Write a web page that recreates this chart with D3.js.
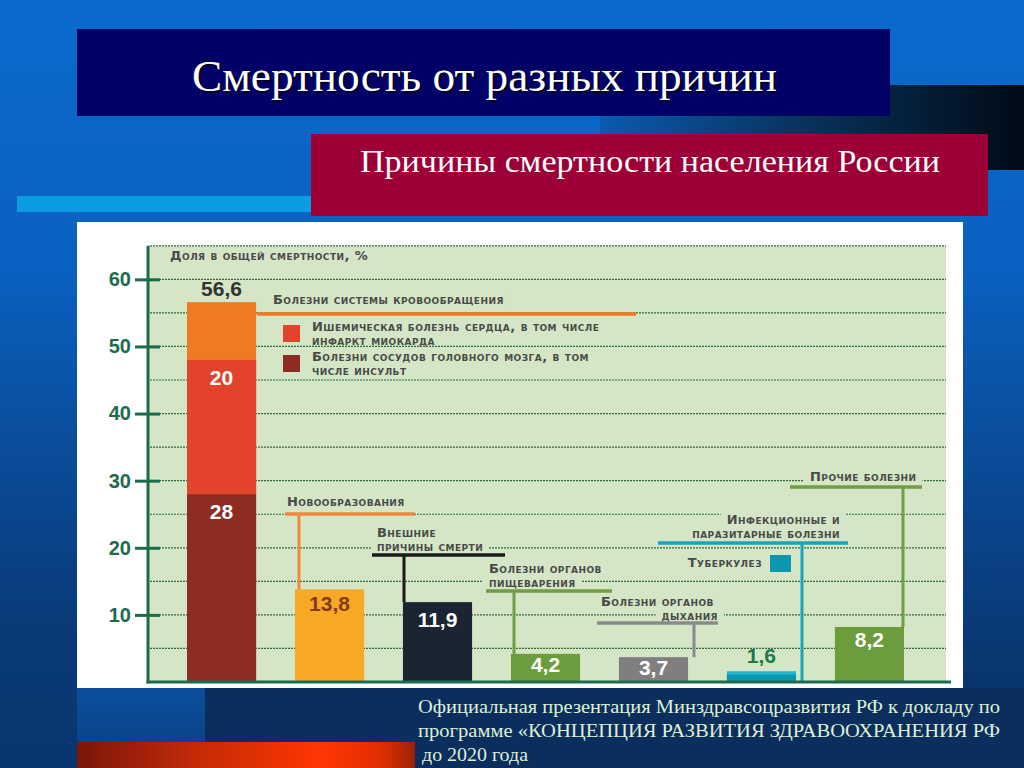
<!DOCTYPE html>
<html>
<head>
<meta charset="utf-8">
<script src="https://d3js.org/d3.v7.min.js"></script>
<style>
  body { margin: 0; background: #0a5fbf; overflow: hidden; }
  svg { display: block; }
  .cap {
    font-family: "DejaVu Sans", sans-serif;
    font-weight: bold;
    font-variant: small-caps;
    font-size: 13px;
    letter-spacing: 0.45px;
    fill: #4a4a4a;
  }
  .num { font-family: "Liberation Sans", Arial, sans-serif; font-weight: bold; font-size: 21px; }
  .serif { font-family: "Liberation Serif", "Times New Roman", serif; }
</style>
</head>
<body>
<script>
"use strict";

// data
var categories = [
  "Болезни системы кровообращения",
  "Новообразования",
  "Внешние причины смерти",
  "Болезни органов пищеварения",
  "Болезни органов дыхания",
  "Инфекционные и паразитарные болезни",
  "Прочие болезни"
];
var values = [56.6, 13.8, 11.9, 4.2, 3.7, 1.6, 8.2];
var valueLabels = ["56,6", "13,8", "11,9", "4,2", "3,7", "1,6", "8,2"];

// parts of the circulatory bar, from the bottom up
var circParts = [
  ["Болезни сосудов головного мозга, в том", "числе инсульт"],
  ["Ишемическая болезнь сердца, в том числе", "инфаркт миокарда"]
];
var circValues = [28, 20];
var circLabels = ["28", "20"];

// tuberculosis part of the infectious bar (estimated)
var tbName = "Туберкулез";
var tbValue = 1.1;

var yTicks = [10, 20, 30, 40, 50, 60];
var axisTitle = "Доля в общей смертности, %";

var title = "Смертность от разных причин";
var subtitle = "Причины смертности населения России";
var sourceLines = [
  "Официальная презентация Минздравсоцразвития РФ к докладу по",
  "программе «КОНЦЕПЦИЯ РАЗВИТИЯ ЗДРАВООХРАНЕНИЯ РФ",
  "до 2020 года"
];

// colours
var barColors = ["#f07a22", "#f7a824", "#1b2433", "#6c9d3d", "#7f7f7f", "#21b6cd", "#6c9d3d"];
var circColors = ["#8c2c22", "#e3432a"];
var tbColor = "#0b97b1";
var axisColor = "#1d6b4d";
var plotBg = "#d4e6c5";

var W = 1024, H = 768;

var svg = d3.select("body").append("svg")
    .attr("width", W)
    .attr("height", H);

var defs = svg.append("defs");

function gradient(id, x2, y2, stops) {
  var g = defs.append("linearGradient").attr("id", id)
      .attr("x1", 0).attr("y1", 0).attr("x2", x2).attr("y2", y2);
  stops.forEach(function (s) {
    g.append("stop").attr("offset", s[0]).attr("stop-color", s[1]);
  });
}

gradient("bg", 0, 1, [[0, "#0a6bcd"], [0.35, "#0a60c0"], [0.65, "#0a478f"], [1, "#082c5d"]]);
gradient("band", 1, 0, [[0, "#0a5ab0"], [0.45, "#083560"], [1, "#010a16"]]);
gradient("redbar", 1, 0, [[0, "#7a160a"], [0.35, "#c42a08"], [0.72, "#ff3600"], [0.9, "#e22e02"], [1, "#9a2208"]]);
gradient("lowleft", 0, 1, [[0, "#0a4f9c"], [1, "#0a3f80"]]);

/*
  slide background
*/
svg.append("rect").attr("width", W).attr("height", H).attr("fill", "url(#bg)");
svg.append("rect").attr("x", 77).attr("y", 688).attr("width", 128).attr("height", 80).attr("fill", "url(#lowleft)");
svg.append("rect").attr("x", 205).attr("y", 688).attr("width", W - 205).attr("height", 80).attr("fill", "#0b2e5f");
svg.append("rect").attr("x", 0).attr("y", 600).attr("width", 77).attr("height", 168).attr("fill", "#0a3c7a").attr("opacity", 0.6);

// dark band behind the headings
svg.append("rect").attr("x", 600).attr("y", 85).attr("width", W - 600).attr("height", 85).attr("fill", "url(#band)");

// title box
svg.append("rect").attr("x", 77).attr("y", 29).attr("width", 813).attr("height", 87).attr("fill", "#000066");
[["#000", 0.6, 2], ["#fff", 1, 0]].forEach(function (s) {
  svg.append("text").attr("class", "serif")
      .attr("x", 192 + s[2]).attr("y", 91 + s[2])
      .attr("font-size", 44)
      .attr("fill", s[0])
      .attr("opacity", s[1])
      .attr("textLength", 585)
      .attr("lengthAdjust", "spacingAndGlyphs")
      .text(title);
});

// light blue strip
svg.append("rect").attr("x", 17).attr("y", 196).attr("width", 294).attr("height", 16).attr("fill", "#0a9be0");

// subtitle box
svg.append("rect").attr("x", 311).attr("y", 134).attr("width", 677).attr("height", 82).attr("fill", "#9c0036");
svg.append("text").attr("class", "serif")
    .attr("x", 360).attr("y", 172)
    .attr("font-size", 32)
    .attr("fill", "#fff")
    .attr("textLength", 580)
    .attr("lengthAdjust", "spacingAndGlyphs")
    .text(subtitle);

// white chart panel
svg.append("rect").attr("x", 77).attr("y", 222).attr("width", 886).attr("height", 466).attr("fill", "#fff");

// red bar bottom left
svg.append("rect").attr("x", 77).attr("y", 742).attr("width", 338).attr("height", 26).attr("fill", "url(#redbar)");

// source text
svg.selectAll("text.src")
  .data(sourceLines)
  .enter()
  .append("text")
    .attr("class", "serif src")
    .attr("x", function (d, i) { return i === 2 ? 422 : 418; })
    .attr("y", function (d, i) { return 713 + i * 24; })
    .attr("font-size", 19)
    .attr("fill", "#dff0d2")
    .attr("textLength", function (d, i) { return i === 2 ? 106 : 582; })
    .attr("lengthAdjust", "spacingAndGlyphs")
    .text(function (d) { return d; });

/*
  chart
*/
var plotLeft = 148, plotRight = 946;

var y = d3.scaleLinear().domain([0, 65]).range([682, 245.8]);
var x = d3.scaleBand().domain(categories).range([187, 904]).paddingInner(0.36).paddingOuter(0);

var chart = svg.append("g").attr("class", "chart");

chart.append("rect")
    .attr("x", plotLeft).attr("y", y(65))
    .attr("width", plotRight - plotLeft).attr("height", y(0) - y(65))
    .attr("fill", plotBg);

// dotted grid every 5 %
chart.append("g").selectAll("line")
  .data(d3.range(5, 70, 5))
  .enter()
  .append("line")
    .attr("x1", plotLeft + 2).attr("x2", plotRight)
    .attr("y1", function (d) { return y(d); })
    .attr("y2", function (d) { return y(d); })
    .attr("stroke", "#2f6a3c")
    .attr("stroke-width", 1.2)
    .attr("stroke-dasharray", "2,1");

var knock = chart.append("g");
var bars = chart.append("g");
var leaders = chart.append("g");
var labels = chart.append("g");

// y axis
var yAxis = d3.axisLeft(y).tickValues(yTicks).tickSize(13).tickPadding(4);
var ax = chart.append("g")
    .attr("transform", "translate(" + plotLeft + ",0)")
    .call(yAxis);
ax.select(".domain").remove();
ax.selectAll(".tick line")
    .attr("x1", 12)
    .attr("stroke", axisColor)
    .attr("stroke-width", 3);
ax.selectAll(".tick text")
    .attr("fill", axisColor)
    .style("font-family", "Liberation Sans, Arial, sans-serif")
    .style("font-weight", "bold")
    .style("font-size", "20px");

chart.append("line")
    .attr("x1", plotLeft).attr("x2", plotLeft)
    .attr("y1", y(65)).attr("y2", y(0) + 1.5)
    .attr("stroke", axisColor).attr("stroke-width", 3);
chart.append("line")
    .attr("x1", plotLeft - 1.5).attr("x2", plotRight + 5)
    .attr("y1", y(0)).attr("y2", y(0))
    .attr("stroke", axisColor).attr("stroke-width", 3);

labels.append("text").attr("class", "cap")
    .attr("x", 170).attr("y", 260)
    .text(axisTitle);

// plain bars (the first one gets its own stacked parts)
bars.selectAll("rect.bar")
  .data(categories)
  .enter()
  .append("rect")
    .attr("class", "bar")
    .attr("x", function (d) { return x(d); })
    .attr("width", x.bandwidth())
    .attr("y", function (d, i) { return y(values[i]); })
    .attr("height", function (d, i) { return y(0) - y(values[i]); })
    .attr("fill", function (d, i) { return barColors[i]; });

// stacked parts of the circulatory bar
var cum = 0;
var circStack = circValues.map(function (v) {
  var s = { y0: cum, y1: cum + v };
  cum += v;
  return s;
});
bars.selectAll("rect.circ")
  .data(circStack)
  .enter()
  .append("rect")
    .attr("class", "circ")
    .attr("x", x(categories[0]))
    .attr("width", x.bandwidth())
    .attr("y", function (d) { return y(d.y1); })
    .attr("height", function (d) { return y(d.y0) - y(d.y1); })
    .attr("fill", function (d, i) { return circColors[i]; });

labels.selectAll("text.circv")
  .data(circStack)
  .enter()
  .append("text")
    .attr("class", "num circv")
    .attr("x", x(categories[0]) + x.bandwidth() / 2)
    .attr("y", function (d) { return y(d.y1) + 25; })
    .attr("text-anchor", "middle")
    .attr("fill", "#fff")
    .text(function (d, i) { return circLabels[i]; });

// tuberculosis part
bars.append("rect")
    .attr("x", x(categories[5]))
    .attr("width", x.bandwidth())
    .attr("y", y(tbValue))
    .attr("height", y(0) - y(tbValue))
    .attr("fill", tbColor);

// value labels
var valueStyle = [
  { dy: -6, fill: "#333" },
  { dy: 22, fill: "#8a3a1a" },
  { dy: 25, fill: "#fff" },
  { dy: 18, fill: "#fff" },
  { dy: 18, fill: "#fff" },
  { dy: -8, fill: "#1b7a4c" },
  { dy: 20, fill: "#fff" }
];
labels.selectAll("text.val")
  .data(categories)
  .enter()
  .append("text")
    .attr("class", "num val")
    .attr("x", function (d) { return x(d) + x.bandwidth() / 2; })
    .attr("y", function (d, i) { return y(values[i]) + valueStyle[i].dy; })
    .attr("text-anchor", "middle")
    .attr("fill", function (d, i) { return valueStyle[i].fill; })
    .text(function (d, i) { return valueLabels[i]; });

// leader lines with category names
var notes = [
  { i: 0, lines: ["Болезни системы кровообращения"], tx: 273, ty: 304, anchor: "start",
    hy: 314, hx1: 257, hx2: 636, stem: null, color: "#f07a22" },
  { i: 1, lines: ["Новообразования"], tx: 287, ty: 506, anchor: "start",
    hy: 514, hx1: 285, hx2: 415, stem: 299, color: "#f0883c" },
  { i: 2, lines: ["Внешние", "причины смерти"], tx: 377, ty: 537, anchor: "start",
    hy: 555, hx1: 372, hx2: 505, stem: 404, color: "#1a1a1a" },
  { i: 3, lines: ["Болезни органов", "пищеварения"], tx: 489, ty: 573, anchor: "start",
    hy: 591, hx1: 486, hx2: 612, stem: 514, color: "#6f9e45" },
  { i: 4, lines: ["Болезни органов", "дыхания"], tx: 718, ty: 606, anchor: "end",
    hy: 623, hx1: 597, hx2: 718, stem: 694, color: "#8a8a8a" },
  { i: 5, lines: ["Инфекционные и", "паразитарные болезни"], tx: 840, ty: 524, anchor: "end",
    hy: 543, hx1: 658, hx2: 848, stem: 802, color: "#1aa3c0", toBase: true },
  { i: 6, lines: ["Прочие болезни"], tx: 810, ty: 481, anchor: "start",
    hy: 487, hx1: 790, hx2: 922, stem: 903, color: "#6f9e45" }
];

notes.forEach(function (n) {
  leaders.append("line")
      .attr("x1", n.hx1).attr("x2", n.hx2)
      .attr("y1", n.hy).attr("y2", n.hy)
      .attr("stroke", n.color).attr("stroke-width", 3.5);
  if (n.stem !== null) {
    leaders.append("line")
        .attr("x1", n.stem).attr("x2", n.stem)
        .attr("y1", n.hy)
        .attr("y2", n.toBase ? y(0) : y(values[n.i]))
        .attr("stroke", n.color).attr("stroke-width", 3);
  }
  n.lines.forEach(function (t, k) {
    var first = n.i === 4 && k === 0;
    var tx = labels.append("text").attr("class", "cap")
        .attr("x", first ? 601 : n.tx)
        .attr("y", n.ty + k * 14)
        .attr("text-anchor", first ? "start" : n.anchor)
        .text(t);
    var b = tx.node().getBBox();
    knock.append("rect")
        .attr("x", b.x - 6).attr("y", b.y + 1)
        .attr("width", b.width + 12).attr("height", b.height - 2)
        .attr("fill", plotBg);
  });
});

// legend for the parts of the circulatory bar (top part first)
[1, 0].forEach(function (p, k) {
  var gy = 325 + k * 30;
  labels.append("rect")
      .attr("x", 283).attr("y", gy)
      .attr("width", 17).attr("height", 17)
      .attr("fill", circColors[p]);
  circParts[p].forEach(function (t, j) {
    labels.append("text").attr("class", "cap")
        .attr("x", 312).attr("y", gy + 6 + j * 14)
        .text(t);
  });
});

// tuberculosis legend
labels.append("rect")
    .attr("x", 770).attr("y", 555)
    .attr("width", 21).attr("height", 17)
    .attr("fill", tbColor);
var tbText = labels.append("text").attr("class", "cap")
    .attr("x", 762).attr("y", 567)
    .attr("text-anchor", "end")
    .text(tbName);
var tb = tbText.node().getBBox();
knock.append("rect")
    .attr("x", tb.x - 6).attr("y", tb.y + 1)
    .attr("width", tb.width + 40).attr("height", tb.height)
    .attr("fill", plotBg);
</script>
</body>
</html>
